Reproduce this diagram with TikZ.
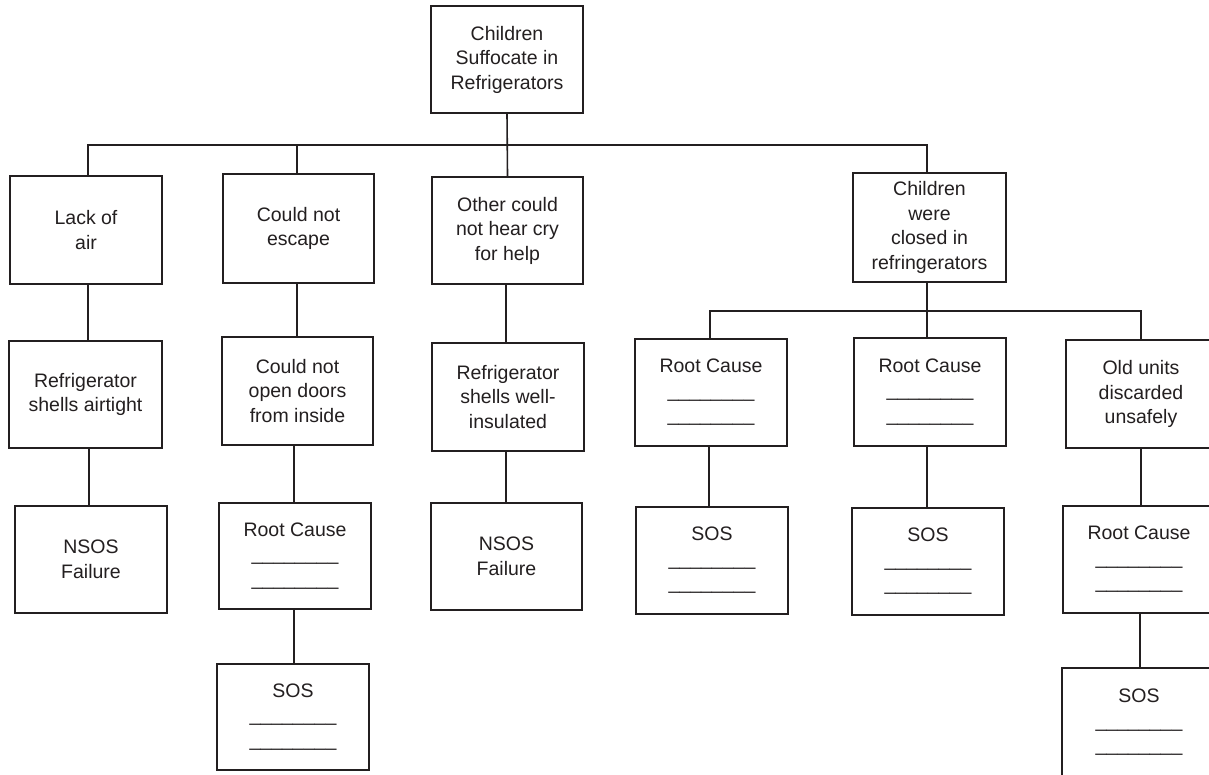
\documentclass[tikz,border=0pt]{standalone}
\usepackage{fontspec}
\setmainfont{Liberation Sans}
\definecolor{ink}{HTML}{231F20}
\begin{document}
\begin{tikzpicture}[x=1pt,y=-1pt,
  box/.style={draw=ink, line width=1.6pt, text=ink, align=center, inner sep=2pt,
    font=\fontsize{19.5}{24.5}\selectfont},
  wire/.style={draw=ink, line width=1.6pt},
]
\clip (0,0) rectangle (1209,775);
\fill[white] (0,0) rectangle (1209,775);

% top event
\node[box, minimum width=152, minimum height=107] (top) at (507,59.5) {Children\\Suffocate in\\Refrigerators};

% first level
\node[box, minimum width=152, minimum height=108] (lack) at (86,230) {Lack of\\air};
\node[box, minimum width=151, minimum height=109] (esc) at (298.5,228.5) {Could not\\escape};
\node[box, minimum width=151, minimum height=107] (hear) at (507.5,230.5) {Other could\\not hear cry\\for help};
\node[box, minimum width=153, minimum height=109] (kids) at (929.5,227.5) {Children\\were\\closed in\\refringerators};

% second level
\node[box, minimum width=153, minimum height=107] (air) at (85.5,394.5) {Refrigerator\\shells airtight};
\node[box, minimum width=151, minimum height=108] (doors) at (297.5,391) {Could not\\open doors\\from inside};
\node[box, minimum width=152, minimum height=108] (insul) at (508,397) {Refrigerator\\shells well-\\insulated};
\node[box, minimum width=152, minimum height=107] (rca) at (711,392.5) {Root Cause\\\_\_\_\_\_\_\_\_\\\_\_\_\_\_\_\_\_};
\node[box, minimum width=152, minimum height=108] (rcb) at (930,392) {Root Cause\\\_\_\_\_\_\_\_\_\\\_\_\_\_\_\_\_\_};
\node[box, minimum width=150, minimum height=108] (old) at (1141,394) {Old units\\discarded\\unsafely};

% third level
\node[box, minimum width=152, minimum height=107] (nsosa) at (91,559.5) {NSOS\\Failure};
\node[box, minimum width=152, minimum height=106] (rcc) at (295,556) {Root Cause\\\_\_\_\_\_\_\_\_\\\_\_\_\_\_\_\_\_};
\node[box, minimum width=151, minimum height=107] (nsosb) at (506.5,556.5) {NSOS\\Failure};
\node[box, minimum width=152, minimum height=107] (sosa) at (712,560.5) {SOS\\\_\_\_\_\_\_\_\_\\\_\_\_\_\_\_\_\_};
\node[box, minimum width=152, minimum height=107] (sosb) at (928,561.5) {SOS\\\_\_\_\_\_\_\_\_\\\_\_\_\_\_\_\_\_};
\node[box, minimum width=152, minimum height=107] (rcd) at (1139,559.5) {Root Cause\\\_\_\_\_\_\_\_\_\\\_\_\_\_\_\_\_\_};

% fourth level
\node[box, minimum width=152, minimum height=106] (sosc) at (293,717) {SOS\\\_\_\_\_\_\_\_\_\\\_\_\_\_\_\_\_\_};
% this box runs past the lower edge: its frame is drawn open at the bottom
\node[box, draw=none, minimum width=152, minimum height=107, anchor=north] (sosd) at (1139,668) {SOS\\\_\_\_\_\_\_\_\_\\\_\_\_\_\_\_\_\_};
\draw[wire] ([yshift=-20pt]sosd.south west) |- (sosd.north east) -- ([yshift=-20pt]sosd.south east);

% bus lines
\coordinate (bus) at (507,145);
\coordinate (kbus) at (927,311);

% top event to first level
\draw[wire] (top.south) -- (hear.north);
\draw[wire] (lack.north -| 88,0) |- (bus) -| (kids.north -| 927,0);
\draw[wire] (esc.north -| 297,0) -- (bus -| 297,0);

% first to second level
\draw[wire] (lack.south -| 88,0) -- (air.north -| 88,0);
\draw[wire] (esc.south -| 297,0) -- (doors.north -| 297,0);
\draw[wire] (hear.south -| 506,0) -- (insul.north -| 506,0);
\draw[wire] (kids.south -| 927,0) -- (rcb.north -| 927,0);
\draw[wire] (rca.north -| 710,0) |- (kbus) -| (old.north -| 1141,0);

% second to third level
\draw[wire] (air.south -| 89,0) -- (nsosa.north -| 89,0);
\draw[wire] (doors.south -| 294,0) -- (rcc.north -| 294,0);
\draw[wire] (insul.south -| 506,0) -- (nsosb.north -| 506,0);
\draw[wire] (rca.south -| 709,0) -- (sosa.north -| 709,0);
\draw[wire] (rcb.south -| 927,0) -- (sosb.north -| 927,0);
\draw[wire] (old.south -| 1141,0) -- (rcd.north -| 1141,0);

% third to fourth level
\draw[wire] (rcc.south -| 294,0) -- (sosc.north -| 294,0);
\draw[wire] (rcd.south -| 1140,0) -- (sosd.north -| 1140,0);
\end{tikzpicture}
\end{document}
